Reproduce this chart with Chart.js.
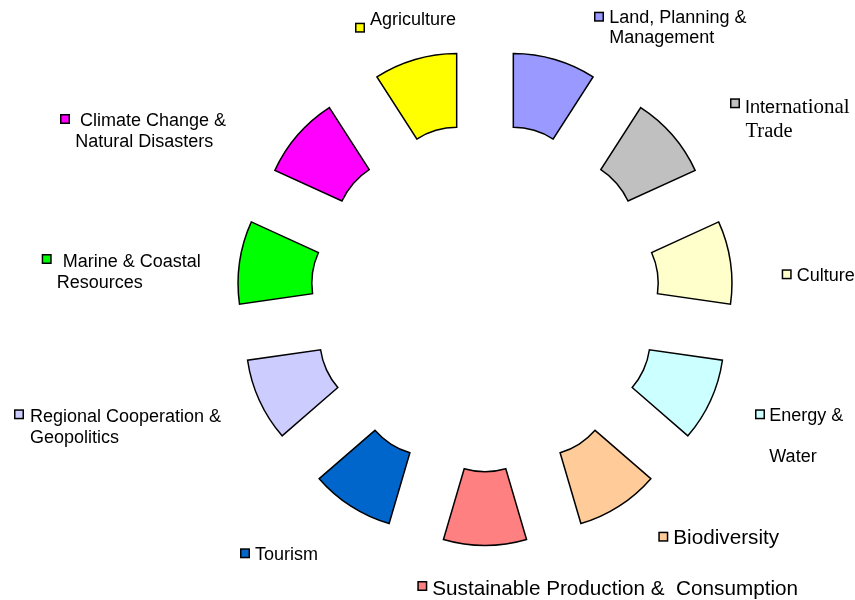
<!DOCTYPE html>
<html>
<head>
<meta charset="utf-8">
<script src="https://cdn.jsdelivr.net/npm/chart.js@4/dist/chart.umd.min.js"></script>
<style>
  html, body { margin: 0; padding: 0; background: #ffffff; }
  #wrap { width: 855px; height: 600px; }
</style>
</head>
<body>
<div id="wrap"><canvas id="c" width="855" height="600"></canvas></div>
<script>
// ---- data ----
const categories = [
  'Land, Planning & Management',
  'International Trade',
  'Culture',
  'Energy & Water',
  'Biodiversity',
  'Sustainable Production &  Consumption',
  'Tourism',
  'Regional Cooperation & Geopolitics',
  'Marine & Coastal Resources',
  'Climate Change & Natural Disasters',
  'Agriculture'
];
const values = [1, 1, 1, 1, 1, 1, 1, 1, 1, 1, 1];
const labelLines = [
  ['Land, Planning &', 'Management'],
  ['International', 'Trade'],
  ['Culture'],
  ['Energy &', 'Water'],
  ['Biodiversity'],
  ['Sustainable Production &  Consumption'],
  ['Tourism'],
  ['Regional Cooperation &', 'Geopolitics'],
  ['Marine & Coastal', 'Resources'],
  ['Climate Change &', 'Natural Disasters'],
  ['Agriculture']
];

// ---- styles / layout (kept apart from data) ----
const colors = [
  '#9999FF', '#C0C0C0', '#FFFFCC', '#CCFFFF', '#FFCC99', '#FF8080',
  '#0066CC', '#CCCCFF', '#00FF00', '#FF00FF', '#FFFF00'
];
const EXPLODE = 100.5; // px each slice is pulled out from the centre
// label placement: square top-left, then each line [x, baseline], font size
const labelLayout = [
  { sq: [594, 11.7],  lines: [[609.3, 22.7], [609.3, 43.3]], size: 18 },
  { sq: [730, 98.3],  lines: [[745, 112.7], [745.5, 136.7]], size: 18, mixed: true },
  { sq: [781.7, 269.3], lines: [[796.7, 280.7]], size: 18 },
  { sq: [755, 409.3], lines: [[769.3, 421], [769.3, 462]], size: 18 },
  { sq: [658.3, 531.7], lines: [[673.3, 544.3]], size: 20.7 },
  { sq: [417.3, 581], lines: [[432.3, 595]], size: 20.7 },
  { sq: [240, 548.3], lines: [[255, 560]], size: 18 },
  { sq: [14, 409.3],  lines: [[30, 422.3], [30, 442.7]], size: 18 },
  { sq: [41.7, 254],  lines: [[62.7, 266.7], [56.7, 287.7]], size: 18 },
  { sq: [60, 114],    lines: [[80, 126], [75.3, 146.7]], size: 18 },
  { sq: [355, 22.7],  lines: [[370, 25]], size: 18 }
];
const SANS = '"Liberation Sans", Arial, sans-serif';
const SERIF = '"Liberation Serif", "Times New Roman", serif';

// draw each arc element translated outward along its bisector (exploded ring)
const explodePlugin = {
  id: 'explode',
  beforeDatasetDraw(chart, args) {
    const ctx = chart.ctx;
    args.meta.data.forEach(el => {
      const mid = (el.startAngle + el.endAngle) / 2;
      ctx.save();
      ctx.translate(Math.cos(mid) * EXPLODE, Math.sin(mid) * EXPLODE);
      el.draw(ctx);
      ctx.restore();
    });
    return false;
  }
};

const labelPlugin = {
  id: 'ringLabels',
  afterDraw(chart) {
    const ctx = chart.ctx;
    ctx.save();
    ctx.textBaseline = 'alphabetic';
    ctx.textAlign = 'left';
    labelLayout.forEach((lay, i) => {
      ctx.fillStyle = colors[i];
      ctx.fillRect(lay.sq[0] + 0.75, lay.sq[1] + 0.75, 8.5, 8.5);
      ctx.lineWidth = 1.5;
      ctx.strokeStyle = '#000';
      ctx.strokeRect(lay.sq[0] + 0.75, lay.sq[1] + 0.75, 8.5, 8.5);
      ctx.fillStyle = '#000';
      labelLines[i].forEach((txt, j) => {
        const [x, y] = lay.lines[j];
        if (lay.mixed) {
          if (j === 0) {
            const a = txt.slice(0, 4), b = txt.slice(4);
            ctx.font = lay.size + 'px ' + SANS;
            ctx.fillText(a, x, y);
            const w = ctx.measureText(a).width;
            ctx.font = '21px ' + SERIF;
            ctx.fillText(b, x + w, y);
          } else {
            ctx.font = '20.5px ' + SERIF;
            ctx.fillText(txt, x, y);
          }
        } else {
          ctx.font = lay.size + 'px ' + SANS;
          ctx.fillText(txt, x, y);
        }
      });
    });
    ctx.restore();
  }
};

new Chart(document.getElementById('c'), {
  type: 'doughnut',
  data: {
    labels: categories,
    datasets: [{
      data: values,
      backgroundColor: colors,
      borderColor: '#000000',
      borderWidth: 1.5,
      borderJoinStyle: 'miter'
    }]
  },
  options: {
    responsive: false,
    animation: false,
    events: [],
    radius: 147.5,
    cutout: '50%',
    layout: { padding: { left: 115, right: 0, top: 0, bottom: 5 } },
    plugins: {
      legend: { display: false },
      tooltip: { enabled: false }
    }
  },
  plugins: [explodePlugin, labelPlugin]
});
</script>
</body>
</html>
